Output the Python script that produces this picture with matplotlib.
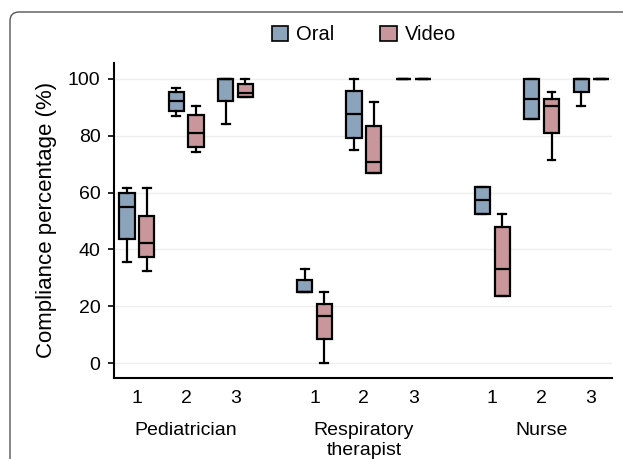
import matplotlib
matplotlib.use("Agg")
import matplotlib.pyplot as plt
from matplotlib.patches import Patch, FancyBboxPatch

plt.rcParams['font.family'] = ['Liberation Sans', 'DejaVu Sans']

groups = ['Pediatrician', 'Respiratory\ntherapist', 'Nurse']
sessions = ['1', '2', '3']
series = ['Oral', 'Video']
colors = {'Oral': '#8ca4bb', 'Video': '#c9979b'}

# box stats, order: Ped 1-3, RT 1-3, Nurse 1-3
oral_whislo = [35.6, 87.1, 84.0, 25.0, 75.1, 100, 52.3, 85.9, 90.6]
oral_q1     = [43.7, 88.6, 92.1, 25.0, 79.2, 100, 52.3, 85.9, 95.4]
oral_med    = [55.0, 92.3, 100,  25.0, 87.8, 100, 57.3, 93.0, 100]
oral_q3     = [59.9, 95.3, 100,  29.2, 95.9, 100, 62.1, 100,  100]
oral_whishi = [61.5, 96.9, 100,  33.2, 100,  100, 62.1, 100,  100]

video_whislo = [32.4, 74.3, 93.7, 0.0,  66.9, 100, 23.8, 71.6, 100]
video_q1     = [37.2, 76.1, 93.7, 8.4,  66.9, 100, 23.8, 81.0, 100]
video_med    = [42.1, 81.0, 94.9, 16.7, 70.9, 100, 33.2, 90.5, 100]
video_q3     = [51.9, 87.2, 98.3, 20.9, 83.4, 100, 47.8, 93.0, 100]
video_whishi = [61.5, 90.5, 100,  25.1, 91.7, 100, 52.6, 95.4, 100]


def make_stats(lo, q1, med, q3, hi):
    return [dict(whislo=a, q1=b, med=c, q3=d, whishi=e)
            for a, b, c, d, e in zip(lo, q1, med, q3, hi)]


stats = {
    'Oral': make_stats(oral_whislo, oral_q1, oral_med, oral_q3, oral_whishi),
    'Video': make_stats(video_whislo, video_q1, video_med, video_q3, video_whishi),
}

# x positions: 3 sessions per group, wider gap between groups
centers = []
for g in range(len(groups)):
    for s in range(len(sessions)):
        centers.append(g * 3.6 + s)

fig = plt.figure(figsize=(6.23, 4.59), dpi=100)
ax = fig.add_axes([0.183, 0.1765, 0.799, 0.687])

offset = 0.2
for i, name in enumerate(series):
    pos = [c + (offset if i else -offset) for c in centers]
    ax.bxp(stats[name], positions=pos, widths=0.31, patch_artist=True,
           showfliers=False, manage_ticks=False,
           boxprops=dict(facecolor=colors[name], edgecolor='black', linewidth=1.6),
           medianprops=dict(color='black', linewidth=1.6),
           whiskerprops=dict(color='black', linewidth=1.6),
           capprops=dict(color='black', linewidth=1.6),
           capwidths=0.16)

ax.set_xlim(-0.46, 9.62)
ax.set_ylim(-5.2, 105.7)
ax.set_yticks([0, 20, 40, 60, 80, 100])
ax.yaxis.grid(True, color='#eeeeee', linewidth=1)
ax.set_axisbelow(True)
ax.set_xticks(centers)
ax.set_xticklabels(sessions * len(groups))
ax.tick_params(axis='x', length=0, labelsize=14, pad=8.5)
ax.tick_params(axis='y', length=4.3, width=1.2, labelsize=14, pad=5.5)
for side in ['top', 'right']:
    ax.spines[side].set_visible(False)
for side in ['left', 'bottom']:
    ax.spines[side].set_linewidth(1.5)

ax.set_ylabel('Compliance percentage (%)', fontsize=16)
ax.yaxis.set_label_coords(-0.115, 0.5)

for g, name in enumerate(groups):
    xc = sum(centers[g * 3:g * 3 + 3]) / 3
    ax.text(xc, -0.138, name, transform=ax.get_xaxis_transform(),
            ha='center', va='top', fontsize=14, linespacing=1.25)

handles = [Patch(facecolor=colors[n], edgecolor='black', linewidth=1.2, label=n)
           for n in series]
fig.legend(handles=handles, loc='center', bbox_to_anchor=(0.584, 0.924), ncol=2,
           frameon=False, fontsize=14.5, handlelength=0.8, handleheight=0.8,
           handletextpad=0.4, columnspacing=2.3)

# rounded panel border, cut by the right and bottom edges
frame = FancyBboxPatch((10, -100), 700, 547, boxstyle='round,pad=0,rounding_size=9',
                       transform=None, facecolor='none', edgecolor='#555555',
                       linewidth=1.0)
fig.patches.append(frame)

fig.savefig('out.png', dpi=100)
